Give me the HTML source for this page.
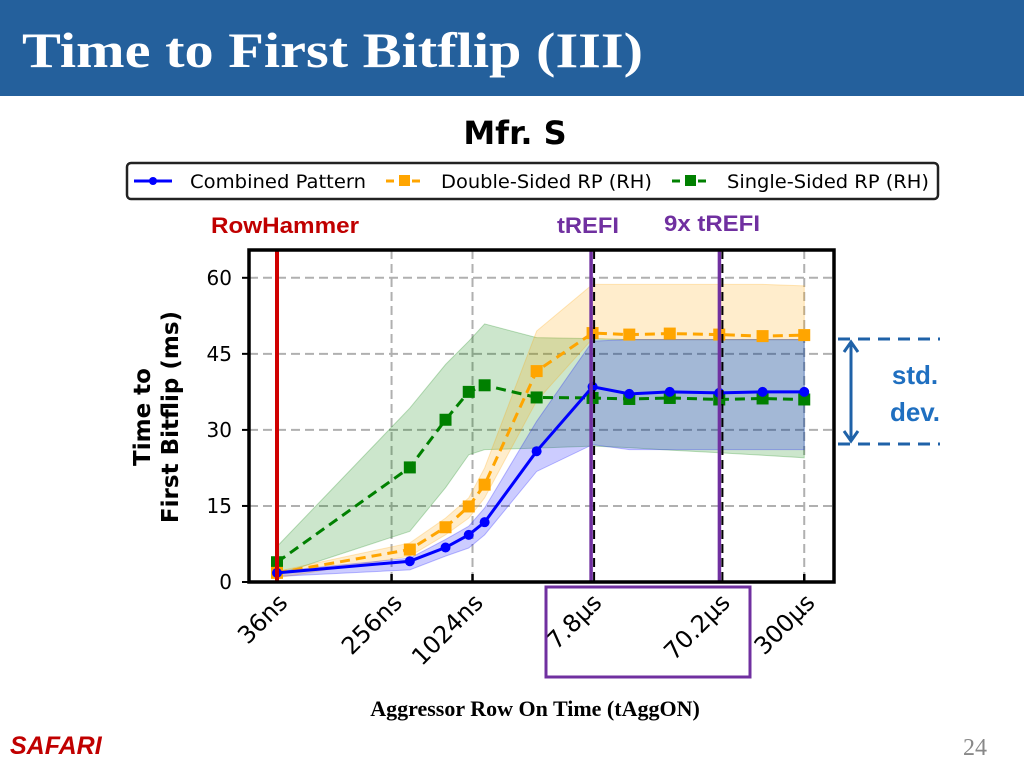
<!DOCTYPE html>
<html><head><meta charset="utf-8">
<style>
html,body{margin:0;padding:0;background:#fff;}
body{width:1024px;height:768px;overflow:hidden;position:relative;font-family:"Liberation Sans",sans-serif;}
</style></head>
<body>
<svg id="chart" width="1024" height="768" viewBox="0 0 1024 768" xmlns="http://www.w3.org/2000/svg">
<rect x="0" y="0" width="1024" height="96" fill="#24609c"/>
<text x="22" y="67" font-family="Liberation Serif, serif" font-weight="bold" font-size="50" fill="#fff" textLength="621" lengthAdjust="spacingAndGlyphs">Time to First Bitflip (III)</text>
<text x="515" y="144" text-anchor="middle" font-family="DejaVu Sans, sans-serif" font-weight="bold" font-size="32" fill="#000">Mfr. S</text>
<g>
<rect x="127" y="163" width="811" height="36" rx="4" fill="#fff" stroke="#222" stroke-width="2.5"/>
<line x1="134" y1="181" x2="172" y2="181" stroke="#0000ff" stroke-width="3"/><circle cx="153" cy="181" r="4" fill="#0000ff"/>
<text x="190" y="188" font-family="DejaVu Sans, sans-serif" font-size="19" textLength="176" lengthAdjust="spacingAndGlyphs">Combined Pattern</text>
<line x1="386" y1="181" x2="424" y2="181" stroke="#ffa500" stroke-width="3" stroke-dasharray="8,5"/><rect x="399" y="175" width="11" height="11" fill="#ffa500"/>
<text x="441" y="188" font-family="DejaVu Sans, sans-serif" font-size="19" textLength="211" lengthAdjust="spacingAndGlyphs">Double-Sided RP (RH)</text>
<line x1="672" y1="181" x2="710" y2="181" stroke="#008000" stroke-width="3" stroke-dasharray="8,5"/><rect x="685" y="175" width="11" height="11" fill="#008000"/>
<text x="727" y="188" font-family="DejaVu Sans, sans-serif" font-size="19" textLength="202" lengthAdjust="spacingAndGlyphs">Single-Sided RP (RH)</text>
</g>
<text x="211" y="233" font-family="Liberation Sans, sans-serif" font-weight="bold" font-size="22" fill="#c00000" textLength="148" lengthAdjust="spacingAndGlyphs">RowHammer</text>
<text x="557" y="233" font-family="Liberation Sans, sans-serif" font-weight="bold" font-size="22" fill="#7030a0" textLength="62" lengthAdjust="spacingAndGlyphs">tREFI</text>
<text x="664" y="231" font-family="Liberation Sans, sans-serif" font-weight="bold" font-size="22" fill="#7030a0" textLength="96" lengthAdjust="spacingAndGlyphs">9x tREFI</text>
<g id="plot"></g>
<rect x="546" y="587" width="204" height="90" fill="none" stroke="#7030a0" stroke-width="3"/>
<g stroke="#1f62a8" stroke-width="3" fill="none">
<line x1="838" y1="339" x2="940" y2="339" stroke-dasharray="12,8"/>
<line x1="838" y1="444" x2="940" y2="444" stroke-dasharray="12,8"/>
<line x1="851" y1="342" x2="851" y2="441"/>
<polyline points="844,352 851,342 858,352"/>
<polyline points="844,431 851,441 858,431"/>
</g>
<text x="915" y="384" text-anchor="middle" font-family="Liberation Sans, sans-serif" font-weight="bold" font-size="26" fill="#1f6fc0">std.</text>
<text x="915" y="421" text-anchor="middle" font-family="Liberation Sans, sans-serif" font-weight="bold" font-size="26" fill="#1f6fc0">dev.</text>
<g transform="translate(155,417) rotate(-90)" font-family="DejaVu Sans, sans-serif" font-weight="bold" font-size="23" text-anchor="middle">
<text x="0" y="-5">Time to</text>
<text x="0" y="23">First Bitflip (ms)</text>
</g>
<text x="535" y="716" text-anchor="middle" font-family="Liberation Serif, serif" font-weight="bold" font-size="22">Aggressor Row On Time (tAggON)</text>
<text x="10" y="754" font-family="Liberation Sans, sans-serif" font-weight="bold" font-style="italic" font-size="25" fill="#c00000">SAFARI</text>
<text x="987" y="755" text-anchor="end" font-family="Liberation Serif, serif" font-size="24" fill="#888">24</text>
</svg>
<script>
const xNs = [36, 350, 645, 960, 1260, 3070, 8000, 15000, 30000, 70000, 147000, 300000];
const combined = [1.8, 4.1, 6.8, 9.3, 11.8, 25.8, 38.5, 37.1, 37.5, 37.3, 37.5, 37.5];
const combinedHi = [2.1, 4.7, 8.4, 11, 14.6, 31.7, 47.5, 47.8, 47.8, 47.8, 47.8, 47.8];
const combinedLo = [1.1, 2.4, 5.1, 6.7, 9.3, 21.8, 27.1, 26.1, 26.1, 26.1, 26.1, 26.1];
const doubleSided = [1.8, 6.4, 10.8, 14.9, 19.2, 41.6, 49.1, 48.8, 49, 48.8, 48.5, 48.7];
const doubleHi = [2.1, 7.7, 12.6, 16.6, 22.5, 49.5, 58.7, 58.7, 58.7, 58.7, 58.7, 58.4];
const doubleLo = [0.8, 5.1, 9.3, 12.6, 16.6, 35.7, 48, 47.8, 47.8, 47.8, 47.8, 47.8];
const singleSided = [3.9, 22.6, 32, 37.5, 38.8, 36.4, 36.3, 36.1, 36.3, 36, 36.2, 36];
const singleHi = [7, 34.3, 42.9, 47.5, 50.9, 48.2, 48, 47.8, 47.8, 47.8, 47.8, 47.8];
const singleLo = [1.4, 10, 18.6, 25.1, 26.1, 26.4, 26.8, 26.5, 26, 25.5, 25, 24.5];
const yTicks = [0, 15, 30, 45, 60];
const xTickNs = [36, 256, 1024, 7800, 70200, 300000];
const xTickLabels = ["36ns", "256ns", "1024ns", "7.8µs", "70.2µs", "300µs"];
const refNs = [36];
const purpleNs = [7800, 70200];

const NS = "http://www.w3.org/2000/svg";
const L = 249, R = 834, T = 250, B = 582;
function xs(ns){ return 277 + (Math.log(ns) - Math.log(36)) * 58.4; }
function ys(v){ return B - v * 5.07; }
const g = document.getElementById('plot');
function mk(tag, attrs, parent){
  const e = document.createElementNS(NS, tag);
  for (const k in attrs) e.setAttribute(k, attrs[k]);
  (parent || g).appendChild(e);
  return e;
}
// grid
yTicks.forEach(v => {
  const l = mk('line', {x1:L, x2:R, y1:ys(v), y2:ys(v), stroke:'#b0b0b0', 'stroke-width':2, 'stroke-dasharray':'9,5'});
  
  
  const tk = mk('line', {x1:L-7, x2:L, y1:ys(v), y2:ys(v), stroke:'#000', 'stroke-width':2});
  
  
  const t = mk('text', {x:L-17, y:ys(v)+7, 'text-anchor':'end', 'font-family':'DejaVu Sans, sans-serif', 'font-size':20});
  t.textContent = v;
  
  
});
xTickNs.forEach((ns, i) => {
  const x = xs(ns);
  const l = mk('line', {x1:x, x2:x, y1:T, y2:B, stroke:'#b0b0b0', 'stroke-width':2, 'stroke-dasharray':'9,5'});
  
  
  const tk = mk('line', {x1:x, x2:x, y1:B-8, y2:B, stroke:'#000', 'stroke-width':2.5});
  
  
  const t = mk('text', {transform:'translate(' + (x+12) + ',' + (B+22) + ') rotate(-45)', 'text-anchor':'end', 'font-family':'DejaVu Sans, sans-serif', 'font-size':24});
  t.textContent = xTickLabels[i];
  
  
});
function band(hi, lo, color, name){
  let pts = xNs.map((n,i) => xs(n) + ',' + ys(hi[i]));
  for (let i = xNs.length-1; i >= 0; i--) pts.push(xs(xNs[i]) + ',' + ys(lo[i]));
  const p = mk('polygon', {points: pts.join(' '), fill: color, 'fill-opacity': 0.2, stroke: color, 'stroke-opacity': 0.25});
  
  
}
band(singleHi, singleLo, '#008000', 'single-sided-std-band');
band(doubleHi, doubleLo, '#ffa500', 'double-sided-std-band');
band(combinedHi, combinedLo, '#0000ff', 'combined-std-band');
function series(vals, color, dash, marker, name){
  const pts = xNs.map((n,i) => xs(n) + ',' + ys(vals[i])).join(' ');
  const pl = mk('polyline', {points: pts, fill:'none', stroke: color, 'stroke-width':3, 'stroke-dasharray': dash});
  
  
  xNs.forEach((n,i) => {
    let m;
    if (marker === 'c') m = mk('circle', {cx: xs(n), cy: ys(vals[i]), r: 5, fill: color});
    else m = mk('rect', {x: xs(n)-6, y: ys(vals[i])-6, width: 12, height: 12, fill: color});
    
    
  });
}
series(singleSided, '#008000', '10,6', 's', 'single-sided');
series(doubleSided, '#ffa500', '10,6', 's', 'double-sided');
series(combined, '#0000ff', '', 'c', 'combined');
refNs.forEach(ns => {
  const l = mk('line', {x1: xs(ns), x2: xs(ns), y1: T, y2: B, stroke: '#d00000', 'stroke-width': 4});
  
  
});
purpleNs.forEach(ns => {
  const l = mk('line', {x1: xs(ns), x2: xs(ns), y1: T, y2: B, stroke: '#7030a0', 'stroke-width': 3.5});
  
  
  const d = mk('line', {x1: xs(ns)+3, x2: xs(ns)+3, y1: T, y2: B, stroke: '#000', 'stroke-width': 2, 'stroke-dasharray':'9,5'});
  
  
});
const fr = mk('rect', {x: L, y: T, width: R-L, height: B-T, fill: 'none', stroke: '#000', 'stroke-width': 3.5});


</script>
</body></html>
